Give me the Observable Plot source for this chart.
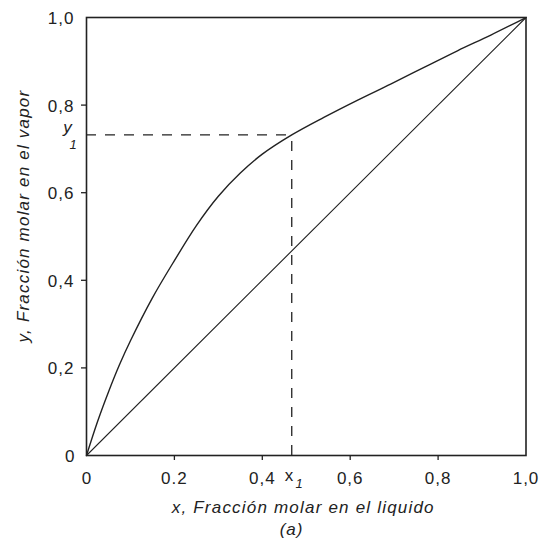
<!DOCTYPE html>
<html>
<head>
<meta charset="utf-8">
<script src="https://cdn.jsdelivr.net/npm/d3@7"></script>
<script src="https://cdn.jsdelivr.net/npm/@observablehq/plot@0.6"></script>
<style>
  html, body { margin: 0; padding: 0; background: #fff; }
  svg { font-family: "Liberation Sans", Arial, sans-serif; }
</style>
</head>
<body>
<div id="chart"></div>
<script>
// Equilibrium curve
const curveX = [0, 0.025, 0.05, 0.075, 0.1, 0.15, 0.2, 0.25, 0.3, 0.35, 0.4, 0.467, 0.54, 0.616, 0.692, 0.768, 0.844, 0.92, 1];
const curveY = [0, 0.077, 0.145, 0.207, 0.262, 0.36, 0.445, 0.525, 0.592, 0.645, 0.688, 0.732, 0.772, 0.811, 0.848, 0.886, 0.924, 0.96, 1];
// Diagonal y = x
const diagX = [0, 1];
const diagY = [0, 1];
// Marked point
const x1 = 0.467;
const y1 = 0.732;
// Ticks and labels
const xTickVals = [0.2, 0.4, 0.6, 0.8];
const xLabelVals = [0, 0.2, 0.4, 0.6, 0.8, 1];
const xLabelText = ["0", "0.2", "0,4", "0,6", "0,8", "1,0"];
const yTickVals = [0.2, 0.4, 0.6, 0.8];
const yLabelVals = [0, 0.2, 0.4, 0.6, 0.8, 1];
const yLabelText = ["0", "0,2", "0,4", "0,6", "0,8", "1,0"];
const xTitle = "x, Fracción molar en el liquido";
const yTitle = "y, Fracción molar en el vapor";
const caption = "(a)";

const curve = curveX.map((x, i) => ({x, y: curveY[i]}));
const diag = diagX.map((x, i) => ({x, y: diagY[i]}));
const xLabels = xLabelVals.map((v, i) => ({v, t: xLabelText[i]}));
const yLabels = yLabelVals.map((v, i) => ({v, t: yLabelText[i]}));

const FS = 17;
const ink = "#222";

const chart = Plot.plot({
  width: 543,
  height: 546,
  marginLeft: 86,
  marginRight: 17.5,
  marginTop: 17,
  marginBottom: 91,
  x: {domain: [0, 1], axis: null},
  y: {domain: [0, 1], axis: null},
  style: {fontFamily: '"Liberation Sans", Arial, sans-serif', background: "#fff", overflow: "visible"},
  marks: [
    // dashed guides
    Plot.ruleX([x1], {y1: 0, y2: y1, stroke: ink, strokeWidth: 1.3, strokeDasharray: "10,9"}),
    Plot.ruleY([y1], {x1: 0, x2: x1, stroke: ink, strokeWidth: 1.3, strokeDasharray: "10,9"}),
    // diagonal
    Plot.line(diag, {x: "x", y: "y", stroke: "#222", strokeWidth: 1.1}),
    // equilibrium curve
    Plot.line(curve, {x: "x", y: "y", stroke: "#222", strokeWidth: 1.4, curve: "catmull-rom"}),
    // ticks
    Plot.axisX(xTickVals, {tickSize: 5, tickFormat: () => "", stroke: ink, strokeWidth: 1.3}),
    Plot.axisY(yTickVals, {tickSize: 5, tickFormat: () => "", stroke: ink, strokeWidth: 1.3}),
    // frame
    Plot.frame({stroke: ink, strokeWidth: 1.6}),
    // tick labels
    Plot.text(xLabels, {x: "v", text: "t", frameAnchor: "bottom", lineAnchor: "middle", textAnchor: "middle", dy: 22.6, fontSize: FS, fill: ink}),
    Plot.text(yLabels, {y: "v", text: "t", frameAnchor: "left", lineAnchor: "middle", textAnchor: "end", dx: -12, dy: 1, fontSize: FS, fill: ink}),
    // x1 label
    Plot.text([x1], {x: d => d, text: () => "x", frameAnchor: "bottom", lineAnchor: "middle", textAnchor: "middle", dx: -2.7, dy: 19.6, fontSize: FS, fill: ink}),
    Plot.text([x1], {x: d => d, text: () => "1", frameAnchor: "bottom", lineAnchor: "middle", textAnchor: "middle", dx: 7.3, dy: 28.8, fontSize: 13, fontStyle: "italic", fill: ink}),
    // y1 label
    Plot.text([y1], {y: d => d, text: () => "y", frameAnchor: "left", lineAnchor: "middle", textAnchor: "middle", dx: -19, dy: -7.5, fontSize: FS, fontStyle: "italic", fill: ink}),
    Plot.text([y1], {y: d => d, text: () => "1", frameAnchor: "left", lineAnchor: "middle", textAnchor: "middle", dx: -13.5, dy: 9.5, fontSize: 13, fontStyle: "italic", fill: ink}),
    // axis titles and caption
    Plot.text([xTitle], {text: d => d, frameAnchor: "bottom", lineAnchor: "middle", textAnchor: "middle", dx: -3, dy: 51.6, fontSize: FS, fontStyle: "italic", fill: ink}),
    Plot.text([yTitle], {text: d => d, frameAnchor: "left", lineAnchor: "middle", textAnchor: "middle", dx: -63.4, dy: -20.5, rotate: -90, fontSize: FS, fontStyle: "italic", fill: ink}),
    Plot.text([caption], {text: d => d, frameAnchor: "bottom", lineAnchor: "middle", textAnchor: "middle", dx: -14.7, dy: 74, fontSize: FS, fontStyle: "italic", fill: ink})
  ]
});
// letter spacing (wide spacing as in the original)
d3.select(chart).selectAll("text").each(function() {
  const t = this.textContent;
  if (t === xTitle || t === yTitle) this.setAttribute("letter-spacing", "1.2");
  else if (t.length > 1) this.setAttribute("letter-spacing", "1");
});
document.getElementById("chart").append(chart);
</script>
</body>
</html>
